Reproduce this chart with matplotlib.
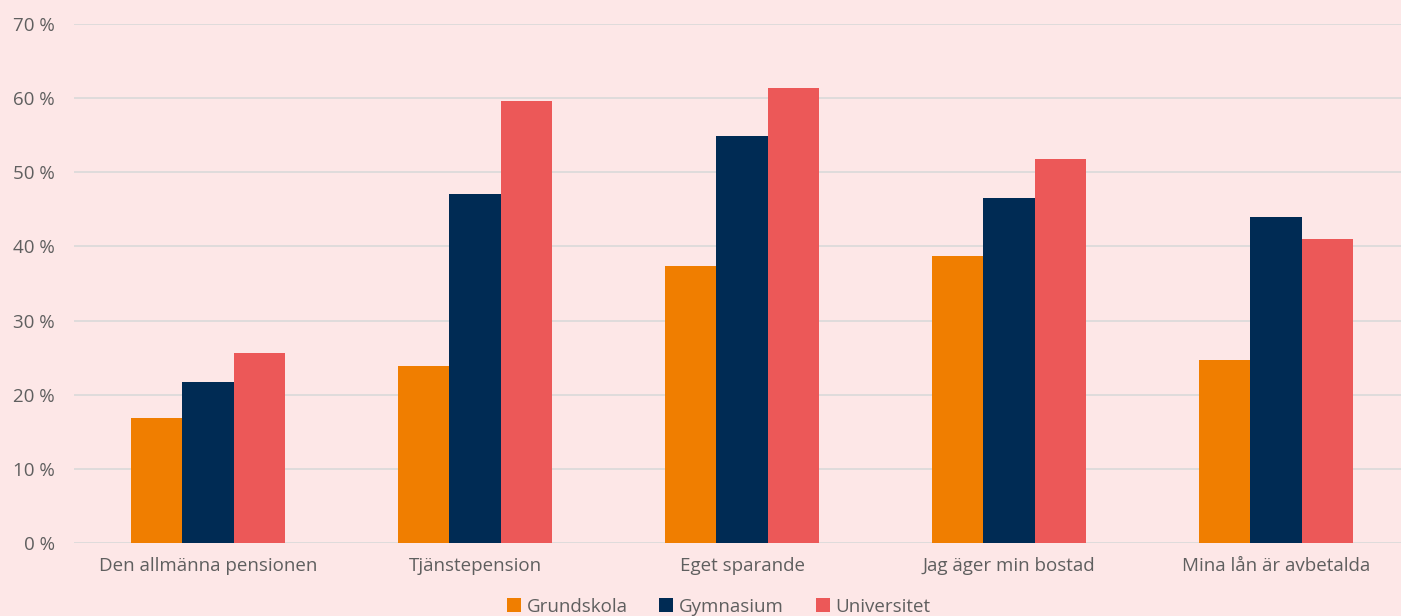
import matplotlib
matplotlib.use("Agg")
from matplotlib import pyplot as plt
import numpy as np

categories = ["Den allmänna pensionen", "Tjänstepension", "Eget sparande",
              "Jag äger min bostad", "Mina lån är avbetalda"]
series_names = ["Grundskola", "Gymnasium", "Universitet"]
grundskola = [16.9, 23.9, 37.4, 38.7, 24.7]
gymnasium = [21.7, 47.1, 54.9, 46.5, 44.0]
universitet = [25.6, 59.6, 61.4, 51.8, 41.0]
yticks = [0, 10, 20, 30, 40, 50, 60, 70]

bg = "#FDE7E7"
colors = ["#F07E00", "#002B54", "#EC5858"]
txt = "#5F5F5F"

plt.rcParams['font.family'] = ['Open Sans', 'DejaVu Sans']

fig = plt.figure(figsize=(14.01, 6.16), dpi=100, facecolor=bg)
ax = fig.add_axes([74/1401, 1 - 543/616, 1 - 74/1401, (543 - 24)/616])
ax.set_facecolor(bg)

x = np.arange(len(categories))
w = 0.193
for i, (vals, name) in enumerate(zip([grundskola, gymnasium, universitet], series_names)):
    ax.bar(x + (i - 1) * w, vals, w, color=colors[i], label=name, zorder=3)

ax.set_ylim(0, 70)
ax.set_xlim(-0.502, 4.468)
ax.set_yticks(yticks)
ax.set_yticklabels([f"{v} %" for v in yticks])
ax.set_xticks(x)
ax.set_xticklabels(categories)
ax.grid(axis="y", color="#D9D9D9", linewidth=1.2, zorder=0)
for s in ax.spines.values():
    s.set_visible(False)
ax.tick_params(axis="both", length=0, labelsize=13.5, colors=txt)
ax.tick_params(axis="y", pad=14)
ax.tick_params(axis="x", pad=10)

leg = fig.legend(loc="lower center", bbox_to_anchor=(0.513, -0.027), ncol=3, frameon=False,
                 fontsize=13.5, handlelength=0.75, handleheight=0.75, handletextpad=0.3,
                 columnspacing=1.7, labelcolor=txt)

fig.savefig("out.png", dpi=100, facecolor=bg)
